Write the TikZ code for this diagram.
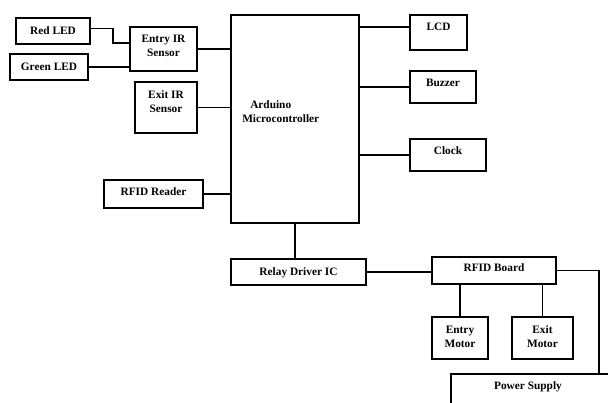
\documentclass[tikz,border=0pt]{standalone}
\usepackage{fontspec}
\setmainfont{Liberation Serif}
\usetikzlibrary{positioning}
\tikzset{
  txt/.style={inner sep=0pt,align=center,font=\bfseries\fontsize{8.5}{10.5}\selectfont},
  blk/.style={txt,draw,line width=1.5pt},
  sz/.style 2 args={minimum width=#1*0.75pt,minimum height=#2*0.75pt},
  one/.style={text height=6pt,text depth=#1},
  two/.style={text height=16.5pt,text depth=#1},
  wire/.style={line width=1pt}
}

\begin{document}
\begin{tikzpicture}[x=0.75pt,y=-0.75pt]
  \useasboundingbox (0,0) rectangle (608,403);
  \clip (0,0) rectangle (608,403);
  % Left side
  \node[blk,sz={74}{26},one=0.4pt] (redled) at (53,31) {Red LED};
  \node[blk,sz={78}{26},one=1.2pt] (greenled) at (49,67) {Green LED};
  \node[blk,sz={67}{44},two=4.9pt] (entry) at (163.5,49) {Entry IR\\Sensor};
  \node[blk,sz={62}{51},two=8.6pt] (exit) at (166,107.5) {Exit IR\\Sensor};
  \node[blk,sz={99}{28},one=3.4pt] (reader) at (153.5,194) {RFID Reader};
  % Controller
  \node[blk,sz={128}{208}] (ard) at (295,119) {};
  \node[txt,align=left,anchor=west] (ardtxt) at (242,112) {\hspace{6pt}Arduino\\Microcontroller};
  % Right side
  \node[blk,sz={57}{35},one=8.6pt] (lcd) at (438.5,32.5) {LCD};
  \node[blk,sz={66}{32},one=6.4pt] (buzzer) at (443,87) {Buzzer};
  \node[blk,sz={76}{32},one=6.4pt] (clock) at (448,155) {Clock};
  % Bottom
  \node[blk,sz={135}{26},one=0.4pt] (relay) at (298.5,272) {Relay Driver IC};
  \node[blk,sz={124}{27},one=4.2pt] (board) at (494,270.5) {RFID Board};
  \node[blk,sz={56}{42},two=2.6pt] (entrymotor) at (460,338) {Entry\\Motor};
  \node[blk,sz={61}{42},two=2.6pt] (exitmotor) at (542.5,338) {Exit\\Motor};
  \node[blk,sz={200}{60},anchor=north west] (power) at (450,373) {};
  \node[txt] (pwrtxt) at (528,387) {Power Supply};

  % Connections
  \coordinate (redbend) at (113,43);
  \coordinate (redout) at ([yshift=2pt]redled.east);
  \draw[wire] (redout) -| (redbend) -- (redbend -| entry.west);
  \draw[wire] (greenled.east) -- (greenled.east -| entry.west);
  \draw[wire] (entry.east) -- (entry.east -| ard.west);
  \draw[wire] (exit.east) -- (exit.east -| ard.west);
  \draw[wire] (reader.east) -- (reader.east -| ard.west);
  \coordinate (lcdin) at ([yshift=4pt]lcd.west);
  \draw[wire] (lcdin) -- (lcdin -| ard.east);
  \draw[wire] (buzzer.west) -- (buzzer.west -| ard.east);
  \draw[wire] (clock.west) -- (clock.west -| ard.east);
  \draw[wire] (ard.south) -- (ard.south |- relay.north);
  \draw[wire] (relay.east) -- (relay.east -| board.west);
  \draw[wire] (board.south -| entrymotor.north) -- (entrymotor.north);
  \draw[wire] (board.south -| exitmotor.north) -- (exitmotor.north);
  \coordinate (pwrin) at (599,373);
  \draw[wire] (board.east) -| (pwrin);
\end{tikzpicture}
\end{document}
